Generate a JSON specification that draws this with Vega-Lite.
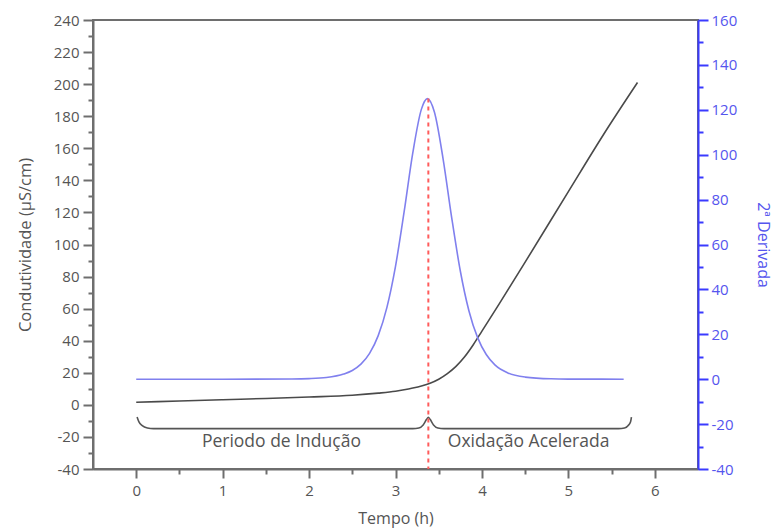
{
  "$schema": "https://vega.github.io/schema/vega-lite/v6.json",
  "autosize": {"type": "none"},
  "width": 605,
  "height": 449,
  "padding": {"left": 93, "top": 20, "right": 76, "bottom": 62},
  "background": "white",
  "config": {
    "view": {"stroke": "#6e6e6e", "strokeWidth": 2},
    "font": "Open Sans"
  },
  "datasets": {
    "cond": [
      {"t": 0, "v": 1.6}, {"t": 0.5, "v": 2.4}, {"t": 1.0, "v": 3.2}, {"t": 1.5, "v": 4.0},
      {"t": 2.0, "v": 4.9}, {"t": 2.5, "v": 6.0}, {"t": 2.8, "v": 7.3}, {"t": 3.0, "v": 8.5},
      {"t": 3.1, "v": 9.4}, {"t": 3.2, "v": 10.5}, {"t": 3.3, "v": 11.8}, {"t": 3.4, "v": 13.5},
      {"t": 3.5, "v": 16.0}, {"t": 3.6, "v": 19.5}, {"t": 3.7, "v": 24.0}, {"t": 3.8, "v": 30.0},
      {"t": 3.9, "v": 37.5}, {"t": 4.0, "v": 46.0}, {"t": 4.2, "v": 63.0}, {"t": 4.5, "v": 89.0},
      {"t": 5.0, "v": 133.0}, {"t": 5.4, "v": 168.0}, {"t": 5.8, "v": 201.0}
    ],
    "brace": [
      {"t": 0.01, "v": -7.6}, {"t": 0.03, "v": -10.5}, {"t": 0.07, "v": -13.0}, {"t": 0.13, "v": -14.4},
      {"t": 0.2, "v": -14.8}, {"t": 3.2, "v": -14.8}, {"t": 3.27, "v": -14.4}, {"t": 3.32, "v": -12.5},
      {"t": 3.36, "v": -9.0}, {"t": 3.38, "v": -7.8}, {"t": 3.4, "v": -9.0}, {"t": 3.44, "v": -12.5},
      {"t": 3.49, "v": -14.4}, {"t": 3.56, "v": -14.8}, {"t": 5.58, "v": -14.8}, {"t": 5.65, "v": -14.4},
      {"t": 5.69, "v": -13.0}, {"t": 5.72, "v": -10.5}, {"t": 5.73, "v": -7.6}
    ],
    "labels": [
      {"t": 1.68, "v": -23.2, "label": "Periodo de Indução"},
      {"t": 4.54, "v": -23.2, "label": "Oxidação Acelerada"}
    ],
    "deriv": [
      {"t": 0, "d": 0}, {"t": 1.0, "d": 0}, {"t": 1.8, "d": 0.1}, {"t": 2.0, "d": 0.25},
      {"t": 2.2, "d": 0.75}, {"t": 2.4, "d": 2.3}, {"t": 2.5, "d": 3.9}, {"t": 2.6, "d": 6.7},
      {"t": 2.7, "d": 11.5}, {"t": 2.8, "d": 19.4}, {"t": 2.9, "d": 31.9}, {"t": 3.0, "d": 50.3},
      {"t": 3.1, "d": 74.6}, {"t": 3.2, "d": 100.8}, {"t": 3.3, "d": 120.3}, {"t": 3.37, "d": 125},
      {"t": 3.45, "d": 119}, {"t": 3.55, "d": 98.3}, {"t": 3.65, "d": 72}, {"t": 3.75, "d": 48.2},
      {"t": 3.85, "d": 30.4}, {"t": 3.95, "d": 18.5}, {"t": 4.05, "d": 11}, {"t": 4.15, "d": 6.4},
      {"t": 4.3, "d": 2.8}, {"t": 4.5, "d": 0.94}, {"t": 4.8, "d": 0.17}, {"t": 5.0, "d": 0.05},
      {"t": 5.64, "d": 0}
    ],
    "peak": [{"t": 3.38, "d": 125, "d2": -40}]
  },
  "encoding": {
    "x": {
      "field": "t", "type": "quantitative",
      "scale": {"domain": [-0.5, 6.5], "nice": false, "zero": false},
      "axis": {
        "title": "Tempo (h)",
        "values": [0, 0.5, 1, 1.5, 2, 2.5, 3, 3.5, 4, 4.5, 5, 5.5, 6],
        "labelExpr": "datum.value % 1 === 0 ? '' + datum.value : ''",
        "grid": false,
        "domainColor": "#6e6e6e", "domainWidth": 2,
        "tickColor": "#6e6e6e", "tickWidth": 2,
        "tickSize": {"condition": {"test": "datum.value % 1 === 0", "value": 9}, "value": 5},
        "labelColor": "#555555", "labelFontSize": 15, "labelPadding": 5, "labelFlush": false,
        "titleColor": "#555555", "titleFontSize": 16, "titleFontWeight": "normal",
        "titleX": 302.5, "titleY": 49, "titleBaseline": "middle", "titleAlign": "center"
      }
    }
  },
  "layer": [
    {
      "encoding": {
        "y": {
          "field": "v", "type": "quantitative",
          "scale": {"domain": [-40, 240], "nice": false, "zero": false},
          "axis": {
            "title": "Condutividade (µS/cm)",
            "orient": "left",
            "values": [-40, -30, -20, -10, 0, 10, 20, 30, 40, 50, 60, 70, 80, 90, 100, 110, 120, 130, 140, 150, 160, 170, 180, 190, 200, 210, 220, 230, 240],
            "labelExpr": "datum.value % 20 === 0 ? '' + datum.value : ''",
            "grid": false,
            "domainColor": "#6e6e6e", "domainWidth": 2,
            "tickColor": "#6e6e6e", "tickWidth": 2,
            "tickSize": {"condition": {"test": "datum.value % 20 === 0", "value": 10}, "value": 5},
            "labelColor": "#555555", "labelFontSize": 15, "labelPadding": 4,
            "titleColor": "#555555", "titleFontSize": 16.5, "titleFontWeight": "normal",
            "titleX": -68, "titleY": 224.5, "titleBaseline": "middle", "titleAlign": "center"
          }
        }
      },
      "layer": [
        {
          "data": {"name": "cond"},
          "mark": {"type": "line", "color": "#4a4a4a", "strokeWidth": 1.6, "interpolate": "monotone"}
        },
        {
          "data": {"name": "brace"},
          "mark": {"type": "line", "color": "#555555", "strokeWidth": 1.6, "interpolate": "monotone"}
        },
        {
          "data": {"name": "labels"},
          "mark": {"type": "text", "color": "#555555", "fontSize": 17.5, "baseline": "middle", "align": "center"},
          "encoding": {"text": {"field": "label"}}
        }
      ]
    },
    {
      "encoding": {
        "y": {
          "field": "d", "type": "quantitative",
          "scale": {"domain": [-40, 160], "nice": false, "zero": false},
          "axis": {
            "title": "2ª Derivada",
            "orient": "right",
            "values": [-40, -30, -20, -10, 0, 10, 20, 30, 40, 50, 60, 70, 80, 90, 100, 110, 120, 130, 140, 150, 160],
            "labelExpr": "datum.value % 20 === 0 ? '' + datum.value : ''",
            "grid": false,
            "domainColor": "#3a3aff", "domainWidth": 2,
            "tickColor": "#3a3aff", "tickWidth": 2,
            "tickSize": {"condition": {"test": "datum.value % 20 === 0", "value": 10}, "value": 5},
            "labelColor": "#5555ee", "labelFontSize": 15, "labelPadding": 3,
            "titleColor": "#5555ee", "titleFontSize": 16, "titleFontWeight": "normal",
            "titleX": 64, "titleY": 224.5, "titleBaseline": "middle", "titleAlign": "center", "titleAngle": 90
          }
        }
      },
      "layer": [
        {
          "data": {"name": "deriv"},
          "mark": {"type": "line", "color": "#8080ee", "strokeWidth": 1.6, "interpolate": "monotone"}
        },
        {
          "data": {"name": "peak"},
          "mark": {"type": "rule", "color": "#ff5c5c", "strokeWidth": 2, "strokeDash": [4, 4]},
          "encoding": {"y2": {"field": "d2"}}
        }
      ]
    }
  ],
  "resolve": {"scale": {"y": "independent"}}
}
